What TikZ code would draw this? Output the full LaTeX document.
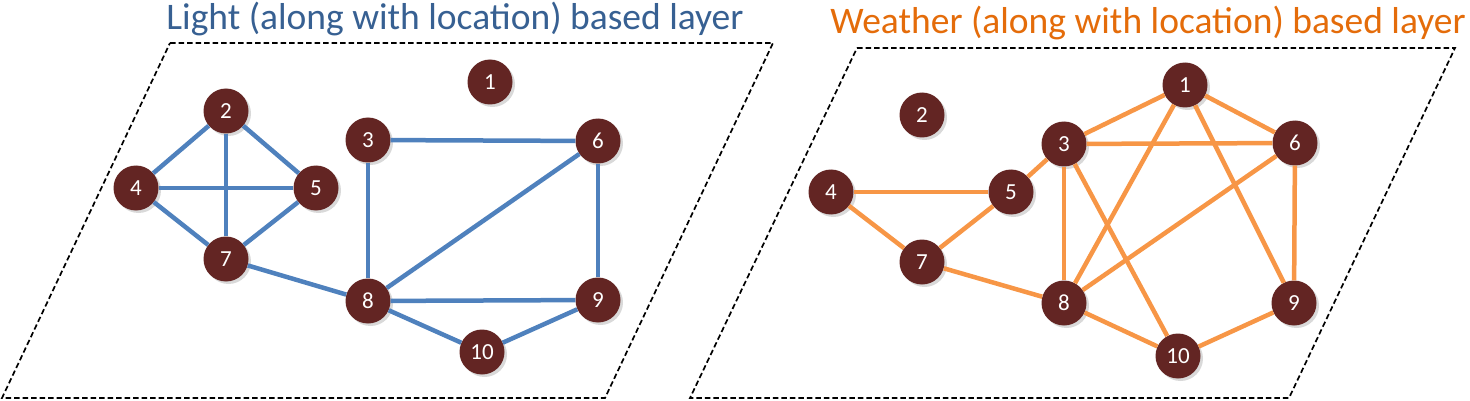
\documentclass[tikz,border=0pt]{standalone}
\usepackage{fontspec}
\setmainfont{Carlito}
\usetikzlibrary{shadows, backgrounds}
\definecolor{nodefill}{RGB}{99, 37, 35}
\definecolor{lightline}{RGB}{79, 129, 189}
\definecolor{lighttitle}{RGB}{55, 96, 146}
\definecolor{weatherline}{RGB}{247, 150, 70}
\definecolor{weathertitle}{RGB}{228, 108, 10}
\tikzset{
    vertex/.style={circle, fill=nodefill, text=white, minimum size=45pt, inner sep=0pt, font=\fontsize{23}{27}\selectfont, drop shadow={shadow xshift=2.5pt, shadow yshift=-2.5pt, opacity=0.3}},
    layerbox/.style={draw=black, line width=1.7pt, dash pattern=on 5.5pt off 3pt},
    title/.style={anchor=base, inner sep=0pt, font=\fontsize{37.5}{44}\selectfont},
    lightedge/.style={draw=lightline, line width=4.5pt},
    weatheredge/.style={draw=weatherline, line width=4.5pt}
}

\begin{document}
\begin{tikzpicture}[x=1pt, y=-1pt]
    \useasboundingbox (0,0) rectangle (1470,401);

    % light layer
    \node (ltitle) [title, text=lighttitle] at (455,30) {Light (along with location) based layer};
    \draw [layerbox] (170,43) -- (773,43) -- (605,398) -- (2,398) -- cycle;

    \node (l1)  [vertex] at (490,82)  {1};
    \node (l2)  [vertex] at (226,111) {2};
    \node (l3)  [vertex] at (368,140) {3};
    \node (l4)  [vertex] at (136,188) {4};
    \node (l5)  [vertex] at (316,188) {5};
    \node (l6)  [vertex] at (598,141) {6};
    \node (l7)  [vertex] at (226,259) {7};
    \node (l8)  [vertex] at (368,301) {8};
    \node (l9)  [vertex] at (598,300) {9};
    \node (l10) [vertex] at (482,352) {10};

    \draw [lightedge] (l2) -- (l4);
    \draw [lightedge] (l2) -- (l5);
    \draw [lightedge] (l2) -- (l7);
    \draw [lightedge] (l4) -- (l5);
    \draw [lightedge] (l4) -- (l7);
    \draw [lightedge] (l5) -- (l7);
    \draw [lightedge] (l7) -- (l8);
    \draw [lightedge] (l3) -- (l6);
    \draw [lightedge] (l3) -- (l8);
    \draw [lightedge] (l6) -- (l8);
    \draw [lightedge] (l6) -- (l9);
    \draw [lightedge] (l8) -- (l9);
    \draw [lightedge] (l8) -- (l10);
    \draw [lightedge] (l10) -- (l9);

    % weather layer
    \node (wtitle) [title, text=weathertitle] at (1148,34) {Weather (along with location) based layer};
    \draw [layerbox] (857,48) -- (1455,48) -- (1289,398) -- (690,398) -- cycle;

    \node (w1)  [vertex] at (1185,85)  {1};
    \node (w2)  [vertex] at (922,115)  {2};
    \node (w3)  [vertex] at (1064,144) {3};
    \node (w4)  [vertex] at (831,192)  {4};
    \node (w5)  [vertex] at (1011,192) {5};
    \node (w6)  [vertex] at (1295,143) {6};
    \node (w7)  [vertex] at (922,262)  {7};
    \node (w8)  [vertex] at (1064,303) {8};
    \node (w9)  [vertex] at (1294,303) {9};
    \node (w10) [vertex] at (1178,356) {10};

    \draw [weatheredge] (w4) -- (w5);
    \draw [weatheredge] (w4) -- (w7);
    \draw [weatheredge] (w5) -- (w7);
    \draw [weatheredge] (w5) -- (w3);
    \draw [weatheredge] (w7) -- (w8);
    \draw [weatheredge] (w3) -- (w8);
    \draw [weatheredge] (w3) -- (w6);
    \draw [weatheredge] (w3) -- (w1);
    \draw [weatheredge] (w3) -- (w10);
    \draw [weatheredge] (w1) -- (w6);
    \draw [weatheredge] (w1) -- (w8);
    \draw [weatheredge] (w1) -- (w9);
    \draw [weatheredge] (w6) -- (w8);
    \draw [weatheredge] (w6) -- (w9);
    \draw [weatheredge] (w8) -- (w10);
    \draw [weatheredge] (w10) -- (w9);

\end{tikzpicture}
\end{document}
